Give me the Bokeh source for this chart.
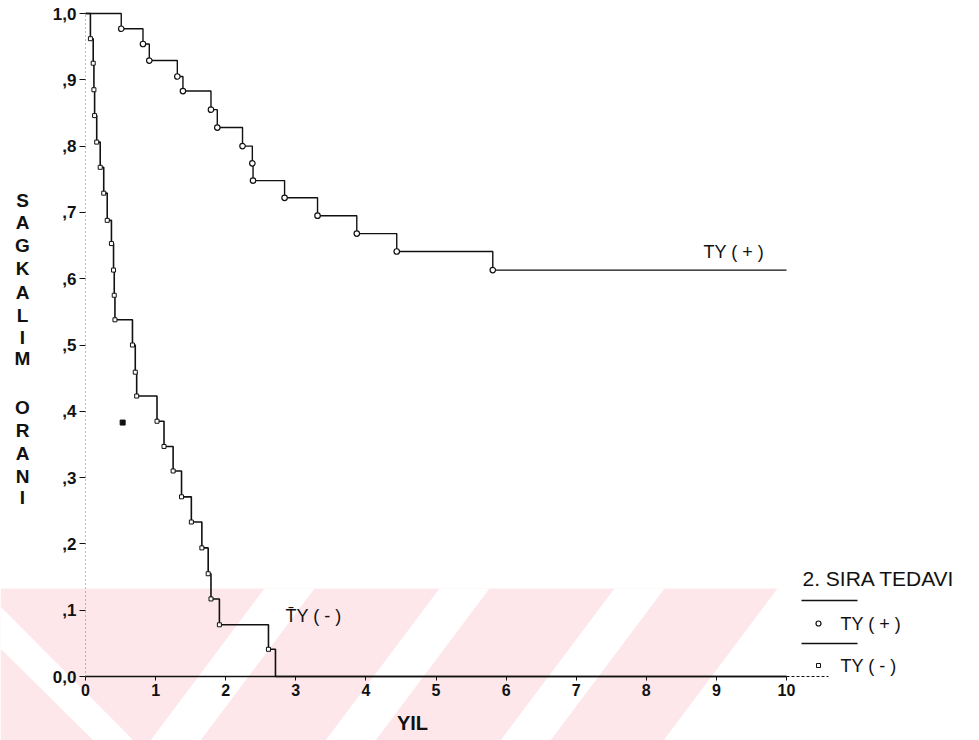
from bokeh.plotting import figure
from bokeh.models import LinearAxis, FixedTicker, Range1d
from bokeh.core.properties import value
from bokeh.embed import file_html
from bokeh.resources import INLINE

# Kaplan-Meier estimates: time in years, survival proportion after each event
ty_pos_time = [0.0, 0.51, 0.82, 0.91, 1.31, 1.39, 1.79, 1.88, 2.24, 2.38, 2.39,
               2.84, 3.31, 3.87, 4.44, 5.81]
ty_pos_surv = [1.0, 0.977, 0.954, 0.929, 0.905, 0.883, 0.855, 0.828, 0.800, 0.774,
               0.748, 0.722, 0.695, 0.668, 0.641, 0.613]
ty_pos_last = 10.0

ty_neg_time = [0.0, 0.07, 0.11, 0.12, 0.13, 0.16, 0.21, 0.26, 0.31, 0.37, 0.40,
               0.41, 0.42, 0.67, 0.71, 0.73, 1.02, 1.12, 1.25, 1.37, 1.51, 1.66,
               1.75, 1.79, 1.91, 2.61, 2.71]
ty_neg_surv = [1.0, 0.962, 0.925, 0.885, 0.846, 0.806, 0.768, 0.729, 0.688, 0.653,
               0.613, 0.575, 0.538, 0.500, 0.459, 0.423, 0.385, 0.347, 0.310, 0.271,
               0.233, 0.194, 0.155, 0.117, 0.078, 0.041, 0.0]
ty_neg_last = 10.0
ty_neg_tail = 10.6

stray_dot_x = [0.53]
stray_dot_y = [0.383]

x_ticks = [0, 1, 2, 3, 4, 5, 6, 7, 8, 9, 10]
y_ticks = [0.0, 0.1, 0.2, 0.3, 0.4, 0.5, 0.6, 0.7, 0.8, 0.9, 1.0]
y_tick_labels = ["0,0", ",1", ",2", ",3", ",4", ",5", ",6", ",7", ",8", ",9", "1,0"]

y_title = ["S", "A", "G", "K", "A", "L", "I", "M", "O", "R", "A", "N", "I"]

W, H = 979, 740
# frame geometry: year 0 at x0 px, 70.1 px per year; survival 0 at y0 px, 663 px per unit
X0, XS = 85.0, 70.1
Y0, YS = 676.0, 663.0


def px_x(px):
    return (px - X0) / XS


def px_y(py):
    return (Y0 - py) / YS


p = figure(width=W, height=H, output_backend="svg", toolbar_location=None,
           x_axis_location=None, y_axis_location=None, min_border=0,
           x_range=Range1d(px_x(0), px_x(W)), y_range=Range1d(px_y(H), px_y(0)),
           outline_line_color=None, background_fill_color="white",
           border_fill_color="white")
p.grid.visible = False

# faint pink striped band along the bottom of the page
pink = "#fde7eb"
band = [(0, 588), (777, 588), (663, 740), (0, 740)]
p.patch([px_x(a) for a, b in band], [px_y(b) for a, b in band],
        fill_color=pink, line_color=None)
gaps = [
    [(0, 606), (133, 740), (93, 740), (0, 648)],
    [(150, 740), (200, 740), (314, 588), (264, 588)],
    [(325, 740), (375, 740), (489, 588), (439, 588)],
    [(500, 740), (550, 740), (664, 588), (614, 588)],
]
p.patches([[px_x(a) for a, b in g] for g in gaps],
          [[px_y(b) for a, b in g] for g in gaps],
          fill_color="white", line_color=None)

ink = "#111111"

# survival step curves
p.step(ty_pos_time + [ty_pos_last], ty_pos_surv + [ty_pos_surv[-1]],
       mode="after", line_color=ink, line_width=1.4)
p.step(ty_neg_time + [ty_neg_last], ty_neg_surv + [ty_neg_surv[-1]],
       mode="after", line_color=ink, line_width=1.6)
p.line([ty_neg_last, ty_neg_tail], [ty_neg_surv[-1], ty_neg_surv[-1]],
       line_color=ink, line_width=1.0, line_dash="3 2")

p.scatter(ty_pos_time[1:], ty_pos_surv[1:], marker="circle", size=5.5,
          fill_color="white", line_color=ink, line_width=1.2)
p.scatter(ty_neg_time[1:-1], ty_neg_surv[1:-1], marker="square", size=4,
          fill_color="white", line_color=ink, line_width=1.0)
p.scatter(stray_dot_x, stray_dot_y, marker="square", size=5,
          fill_color=ink, line_color=ink)

# axes
xaxis = LinearAxis(fixed_location=0, ticker=FixedTicker(ticks=x_ticks), bounds=(0, 10))
xaxis.axis_line_color = ink
xaxis.axis_line_width = 1.6
xaxis.major_tick_line_color = ink
xaxis.major_tick_out = 4
xaxis.major_tick_in = 0
xaxis.minor_tick_line_color = None
xaxis.major_label_standoff = 3
xaxis.major_label_text_font = "Liberation Sans"
xaxis.major_label_text_font_style = "bold"
xaxis.major_label_text_font_size = "16px"
xaxis.major_label_text_color = ink
p.add_layout(xaxis, "below")

yaxis = LinearAxis(fixed_location=0, ticker=FixedTicker(ticks=y_ticks), bounds=(0, 1))
yaxis.major_label_overrides = dict(zip(y_ticks, y_tick_labels))
yaxis.axis_line_color = "#777777"
yaxis.axis_line_width = 1.0
yaxis.axis_line_dash = "1 3"
yaxis.major_tick_line_color = ink
yaxis.major_tick_out = 6
yaxis.major_tick_in = 0
yaxis.minor_tick_line_color = None
yaxis.major_label_standoff = 3
yaxis.major_label_text_font = "Liberation Sans"
yaxis.major_label_text_font_style = "bold"
yaxis.major_label_text_font_size = "17px"
yaxis.major_label_text_color = ink
p.add_layout(yaxis, "left")

font = value("Liberation Sans")

# axis titles
title_rows = [200, 222, 245, 268, 292, 315, 337, 358, 407, 430, 453, 476, 497]
p.text(x=[px_x(22)] * len(y_title), y=[px_y(r) for r in title_rows], text=y_title,
       text_font=font, text_font_size="19px", text_font_style="bold",
       text_align="center", text_baseline="middle", text_color=ink)
p.text(x=[px_x(412)], y=[px_y(722)], text=["YIL"], text_font=font,
       text_font_size="20px", text_font_style="bold", text_align="center",
       text_baseline="middle", text_color=ink)

# curve labels
p.text(x=[px_x(703), px_x(285)], y=[px_y(251), px_y(615)],
       text=["TY ( + )", "T\u0304Y ( - )"], text_font=font, text_font_size="18px",
       text_align="left", text_baseline="middle", text_color=ink)

# key
p.text(x=[px_x(802)], y=[px_y(578)], text=["2. SIRA TEDAVI"], text_font=font,
       text_font_size="21px", text_align="left", text_baseline="middle",
       text_color=ink)
p.segment(x0=[px_x(801), px_x(801)], y0=[px_y(600), px_y(643)],
          x1=[px_x(857), px_x(857)], y1=[px_y(600), px_y(643)],
          line_color=ink, line_width=1.4)
p.scatter([px_x(818)], [px_y(623)], marker="circle", size=5, fill_color="white",
          line_color=ink, line_width=1.2)
p.scatter([px_x(818)], [px_y(665)], marker="square", size=4, fill_color="white",
          line_color=ink, line_width=1.0)
p.text(x=[px_x(840), px_x(840)], y=[px_y(623), px_y(665)],
       text=["TY ( + )", "TY ( - )"], text_font=font, text_font_size="18px",
       text_align="left", text_baseline="middle", text_color=ink)

open("out.html", "w").write(file_html(p, INLINE))
